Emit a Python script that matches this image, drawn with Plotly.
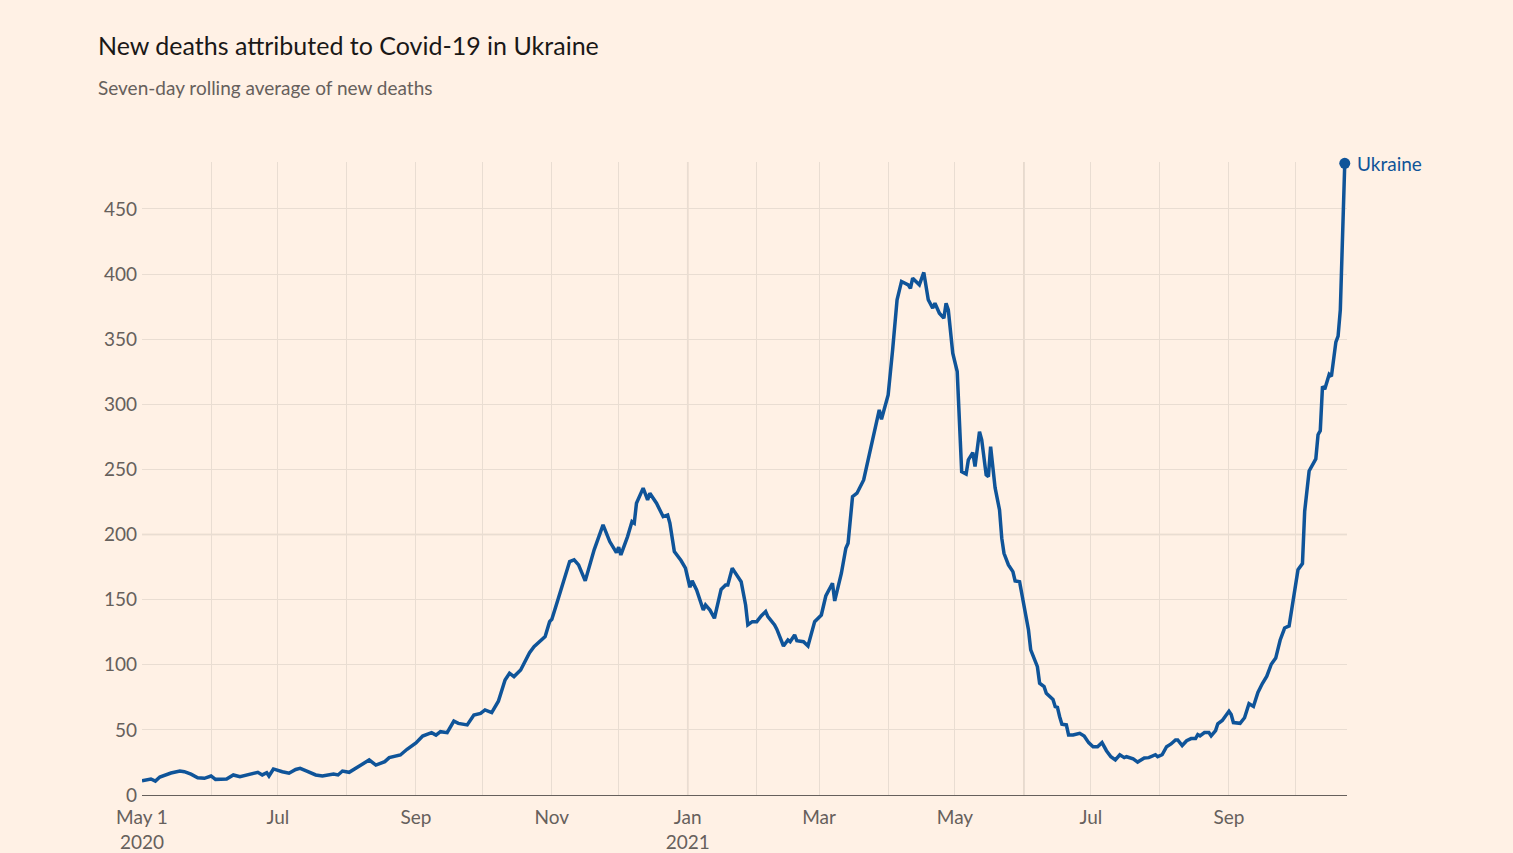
import plotly.graph_objects as go

dates = [
    "2020-05-01", "2020-05-05", "2020-05-07", "2020-05-09", "2020-05-14", "2020-05-18", "2020-05-20",
    "2020-05-23", "2020-05-26", "2020-05-29", "2020-06-01", "2020-06-03", "2020-06-08", "2020-06-11",
    "2020-06-14", "2020-06-19", "2020-06-22", "2020-06-24", "2020-06-26", "2020-06-27", "2020-06-29",
    "2020-07-03", "2020-07-06", "2020-07-09", "2020-07-11", "2020-07-14", "2020-07-18", "2020-07-21",
    "2020-07-26", "2020-07-28", "2020-07-30", "2020-08-02", "2020-08-05", "2020-08-11", "2020-08-14",
    "2020-08-18", "2020-08-20", "2020-08-25", "2020-08-28", "2020-09-01", "2020-09-04", "2020-09-08",
    "2020-09-10", "2020-09-12", "2020-09-15", "2020-09-18", "2020-09-20", "2020-09-24", "2020-09-27",
    "2020-09-30", "2020-10-02", "2020-10-05", "2020-10-08", "2020-10-11", "2020-10-13", "2020-10-15",
    "2020-10-18", "2020-10-19", "2020-10-22", "2020-10-24", "2020-10-26", "2020-10-29", "2020-10-31",
    "2020-11-01", "2020-11-03", "2020-11-05", "2020-11-07", "2020-11-09", "2020-11-11", "2020-11-13",
    "2020-11-16", "2020-11-20", "2020-11-24", "2020-11-27", "2020-11-30", "2020-12-01", "2020-12-02",
    "2020-12-05", "2020-12-07", "2020-12-08", "2020-12-09", "2020-12-12", "2020-12-14", "2020-12-15",
    "2020-12-18", "2020-12-21", "2020-12-23", "2020-12-24", "2020-12-26", "2020-12-29", "2020-12-31",
    "2021-01-02", "2021-01-03", "2021-01-05", "2021-01-08", "2021-01-09", "2021-01-11", "2021-01-13",
    "2021-01-16", "2021-01-18", "2021-01-19", "2021-01-21", "2021-01-22", "2021-01-25", "2021-01-27",
    "2021-01-28", "2021-01-30", "2021-02-01", "2021-02-03", "2021-02-05", "2021-02-06", "2021-02-09",
    "2021-02-10", "2021-02-13", "2021-02-15", "2021-02-16", "2021-02-18", "2021-02-19", "2021-02-22",
    "2021-02-24", "2021-02-27", "2021-03-02", "2021-03-04", "2021-03-07", "2021-03-08", "2021-03-11",
    "2021-03-13", "2021-03-14", "2021-03-16", "2021-03-18", "2021-03-21", "2021-03-23", "2021-03-26",
    "2021-03-28", "2021-03-29", "2021-04-01", "2021-04-03", "2021-04-05", "2021-04-07", "2021-04-10",
    "2021-04-11", "2021-04-12", "2021-04-15", "2021-04-17", "2021-04-19", "2021-04-21", "2021-04-22",
    "2021-04-24", "2021-04-26", "2021-04-27", "2021-04-28", "2021-04-30", "2021-05-02", "2021-05-03",
    "2021-05-04", "2021-05-06", "2021-05-07", "2021-05-09", "2021-05-10", "2021-05-12", "2021-05-13",
    "2021-05-15", "2021-05-16", "2021-05-17", "2021-05-19", "2021-05-21", "2021-05-22", "2021-05-23",
    "2021-05-25", "2021-05-27", "2021-05-28", "2021-05-30", "2021-06-01", "2021-06-03", "2021-06-04",
    "2021-06-07", "2021-06-08", "2021-06-10", "2021-06-11", "2021-06-14", "2021-06-15", "2021-06-16",
    "2021-06-17", "2021-06-18", "2021-06-20", "2021-06-21", "2021-06-23", "2021-06-26", "2021-06-28",
    "2021-06-30", "2021-07-02", "2021-07-04", "2021-07-06", "2021-07-08", "2021-07-10", "2021-07-12",
    "2021-07-14", "2021-07-16", "2021-07-17", "2021-07-20", "2021-07-22", "2021-07-25", "2021-07-27",
    "2021-07-30", "2021-07-31", "2021-08-02", "2021-08-04", "2021-08-06", "2021-08-08", "2021-08-09",
    "2021-08-11", "2021-08-13", "2021-08-15", "2021-08-17", "2021-08-18", "2021-08-19", "2021-08-21",
    "2021-08-23", "2021-08-24", "2021-08-26", "2021-08-27", "2021-08-29", "2021-09-01", "2021-09-02",
    "2021-09-03", "2021-09-06", "2021-09-08", "2021-09-10", "2021-09-12", "2021-09-14", "2021-09-16",
    "2021-09-18", "2021-09-20", "2021-09-22", "2021-09-24", "2021-09-26", "2021-09-28", "2021-09-30",
    "2021-10-02", "2021-10-04", "2021-10-05", "2021-10-07", "2021-10-10", "2021-10-11", "2021-10-12",
    "2021-10-13", "2021-10-14", "2021-10-16", "2021-10-17", "2021-10-19", "2021-10-20", "2021-10-21",
    "2021-10-22", "2021-10-23",
]

deaths = [
    11, 12.3, 10.7, 13.8, 16.9, 18.4, 17.9,
    16, 13.3, 12.8, 14.6, 12, 12.3, 15.4,
    14, 15.9, 17.4, 15.4, 17.1, 14.6, 20,
    17.9, 16.7, 19.6, 20.5, 18.4, 15.4, 14.6,
    16.1, 15.4, 18.4, 17.4, 20.5, 26.9, 23,
    25.6, 28.7, 30.7, 35.1, 40, 45.3, 47.9,
    46, 48.6, 47.9, 56.8, 55, 53.8, 61.4,
    62.7, 65.3, 63.2, 72, 88.3, 93.5, 90.9,
    96, 99, 109.3, 113.9, 117, 121.6, 133.1,
    134.9, 145.9, 157.5, 167.7, 179.2, 180.5, 176.7,
    164.4, 188.2, 207.4, 194.6, 186.1, 190.2, 184.3,
    198.4, 209.9, 208.7, 224, 235.6, 226.6, 231.7,
    224, 213.7, 215, 208.7, 186.9, 180, 174.1,
    159.5, 164.4, 157.5, 142, 145.9, 142, 135.7,
    157.8, 161.3, 161.3, 174.1, 171.5, 163.8, 145.9,
    130.6, 133.1, 133.1, 137.5, 140.8, 136.9, 130.6,
    127.3, 114.4, 119, 117.7, 122.9, 118.5, 117.7,
    114.4, 133.1, 138.2, 152.8, 162.6, 149, 170.3,
    189.5, 193.3, 229.1, 231.7, 241.9, 257.3, 282.9,
    295.7, 288.5, 307.2, 341.8, 380.2, 394.3, 391.7,
    389, 396.8, 391.7, 401.2, 380.2, 373.8, 377.6,
    369.9, 366.1, 377.6, 372.5, 339.2, 325.1, 285.5,
    248.3, 246.5, 257.3, 262.9, 252.2, 279, 272.7,
    245.8, 244.5, 267.5, 236, 218.9, 197.2, 185.6,
    176.7, 171.5, 164.4, 163.8, 144.6, 126.7, 111.4,
    98.5, 85.8, 83.2, 78.1, 73.4, 67.8, 67.3,
    60.1, 54.3, 53.8, 46.1, 46.1, 47.4, 45.3,
    40.2, 37.1, 37.1, 40.2, 34, 29.4, 26.9,
    30.9, 28.7, 29.4, 27.8, 25.3, 28.4, 28.7,
    30.9, 29.4, 30.9, 37.1, 39.2, 42.3, 42.3,
    38, 41.7, 43.3, 43.3, 46.4, 45.4, 47.9,
    47.9, 45.4, 49.4, 54.7, 57.2, 64.3, 61.8,
    55.6, 55, 59.3, 70.1, 68, 78.8, 85.6,
    91.2, 100.4, 105.1, 119, 128.2, 129.8, 153,
    173, 177.7, 217.9, 248.8, 258, 276.6, 279.7,
    313.7, 311.5, 322.9, 321.4, 347.7, 352.3, 372.4,
    434, 485,
]

series_name = "Ukraine"
title_text = "New deaths attributed to Covid-19 in Ukraine"
subtitle_text = "Seven-day rolling average of new deaths"

x_tick_vals = ["2020-05-01", "2020-07-01", "2020-09-01", "2020-11-01", "2021-01-01",
               "2021-03-01", "2021-05-01", "2021-07-01", "2021-09-01"]
x_tick_text = ["May 1<br>2020", "Jul", "Sep", "Nov", "Jan<br>2021", "Mar", "May", "Jul", "Sep"]
y_tick_vals = [0, 50, 100, 150, 200, 250, 300, 350, 400, 450]

BG = "#fff1e5"
BLUE = "#0f5499"
GRID = "#e9ddd2"
GRID_DARK = "#e0d1c4"
TEXT = "#66605c"
FONT = "Lato, 'Open Sans', sans-serif"

fig = go.Figure()
fig.add_trace(go.Scatter(
    x=dates, y=deaths, mode="lines",
    line=dict(color=BLUE, width=3.5),
    hoverinfo="skip", showlegend=False,
))
fig.add_trace(go.Scatter(
    x=[dates[-1]], y=[deaths[-1]], mode="markers",
    marker=dict(color=BLUE, size=11),
    hoverinfo="skip", showlegend=False, cliponaxis=False,
))

# slightly stronger reference gridlines as in the original
for d in ["2021-01-01", "2021-06-01"]:
    fig.add_shape(type="line", xref="x", yref="paper", x0=d, x1=d, y0=0, y1=1,
                  line=dict(color=GRID_DARK, width=1.5), layer="below")
fig.add_shape(type="line", xref="paper", yref="y", x0=0, x1=1, y0=200, y1=200,
              line=dict(color=GRID_DARK, width=1.5), layer="below")

fig.add_annotation(
    x=dates[-1], y=deaths[-1], xref="x", yref="y",
    text=series_name, showarrow=False, xanchor="left", yanchor="middle",
    xshift=10, font=dict(family=FONT, size=19, color=BLUE),
)

# title and subtitle (plot area spans y = 162..795 px)
fig.add_annotation(
    xref="paper", yref="paper", x=(96 - 142) / 1205, y=(795 - 45) / 633,
    text=title_text, showarrow=False, xanchor="left", yanchor="middle",
    font=dict(family=FONT, size=25, color="#1a1817"),
)
fig.add_annotation(
    xref="paper", yref="paper", x=(96 - 142) / 1205, y=(795 - 87) / 633,
    text=subtitle_text, showarrow=False, xanchor="left", yanchor="middle",
    font=dict(family=FONT, size=19, color=TEXT),
)

fig.update_layout(
    width=1513, height=853,
    paper_bgcolor=BG, plot_bgcolor=BG,
    margin=dict(l=142, r=166, t=162, b=58, autoexpand=False),
    font=dict(family=FONT, color=TEXT, size=19),
    xaxis=dict(
        type="date",
        range=["2020-05-01", "2021-10-24"],
        tickmode="array", tickvals=x_tick_vals, ticktext=x_tick_text,
        showgrid=True, gridcolor=GRID, gridwidth=1,
        minor=dict(dtick="M1", tick0="2020-05-01", showgrid=True, gridcolor=GRID, gridwidth=1),
        showline=True, linecolor="#66605c", linewidth=1,
        ticks="", zeroline=False, ticklabelstandoff=5, automargin=False,
        tickfont=dict(family=FONT, size=19, color=TEXT),
    ),
    yaxis=dict(
        range=[0, 486],
        tickmode="array", tickvals=y_tick_vals,
        showgrid=True, gridcolor=GRID, gridwidth=1,
        zeroline=False, showline=False, ticks="", ticklabelstandoff=4, automargin=False,
        tickfont=dict(family=FONT, size=19, color=TEXT),
    ),
)

fig.write_html(
    "out.html",
    config={"displayModeBar": False},
    post_script="document.body.style.margin='0';document.body.style.overflow='hidden';",
)
